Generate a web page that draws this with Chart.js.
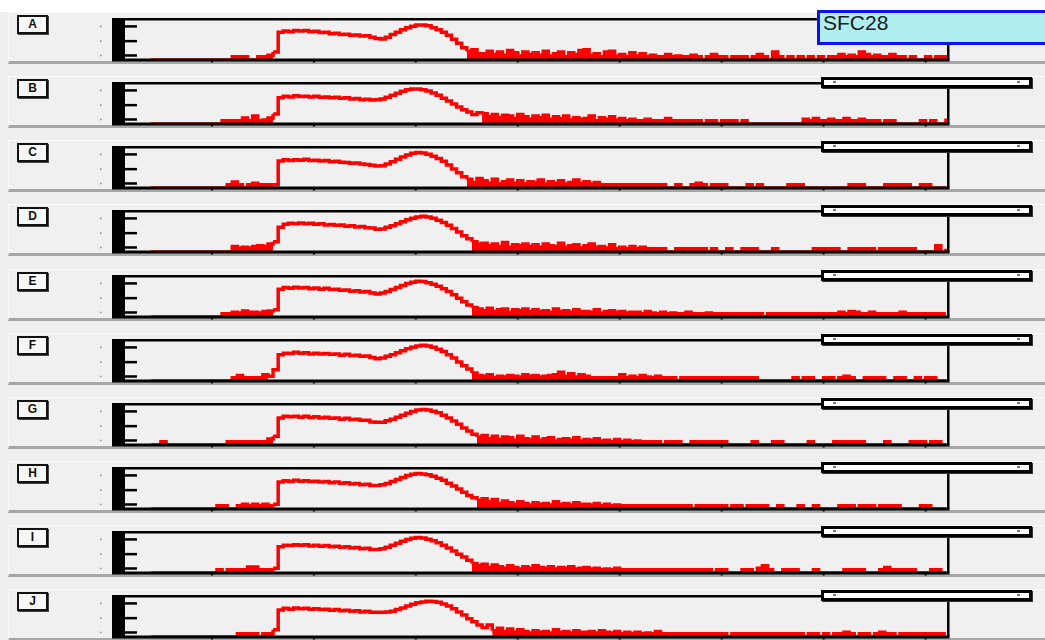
<!DOCTYPE html>
<html>
<head>
<meta charset="utf-8">
<script src="https://cdn.jsdelivr.net/npm/chart.js@4.4.0/dist/chart.umd.min.js"></script>
<style>
  body{margin:0;width:1045px;height:640px;overflow:hidden;background:#efefef;position:relative;font-family:"Liberation Sans",Arial,sans-serif;}
  #topstrip{position:absolute;left:0;top:0;width:1045px;height:12px;background:#fff;}
  .panel{position:absolute;left:8px;width:1037px;height:48px;background:#f0f0f0;border-top:1px solid #fbfbfb;border-left:1px solid #fbfbfb;border-bottom:3px solid #a6a6a6;}
  .lbl{position:absolute;left:17px;width:31px;height:19px;box-sizing:border-box;border:2px solid #111;background:#f7f7f7;box-shadow:1px 1px 0 #444;
       font-weight:bold;font-size:12px;line-height:15px;text-align:center;color:#111;z-index:2;}
  canvas{position:absolute;left:95px;z-index:1;}
  .scroll{position:absolute;left:821px;width:211px;height:11px;box-sizing:border-box;border:3px solid #000;background:#fff;box-shadow:1px 1px 0 #333;z-index:2;}
  .scroll i{position:absolute;top:1px;width:3px;height:2px;background:#6b7a8c;}
  #sfc{position:absolute;left:817px;top:10px;width:240px;height:35px;box-sizing:border-box;border:3px solid #0a14e6;background:#afeeee;z-index:3;}
  #sfc span{position:absolute;left:3px;top:-2px;font-size:21px;line-height:24px;color:#1a1a1a;}
</style>
</head>
<body>
<div id="topstrip"></div>
<div id="rows"></div>
<div id="sfc"><span>SFC28</span></div>
<script>
// histogram bins: channel START + i*BIN, heights in % of the plot height
const START = 40;
const BIN = 5;
const X_MIN = 2, X_MAX = 822;
const X_TICKS = [100, 200, 300, 400, 500, 600, 700, 800];
const Y_TICKS = [12, 48, 85];
const ROW_LABELS = ['A', 'B', 'C', 'D', 'E', 'F', 'G', 'H', 'I', 'J'];

const A_VALUES = [
  0,0,0,0,0,0,0,0,0,0,0,0,0,0,0,0,8,8,8,0,0,8,8,12,20,
  70,73,71,74,73,74,71,72,69,70,
  66,67,64,65,62,63,60,61,57,54,
  53,57,64,70,76,81,85,88,88,86,
  81,76,70,62,52,42,31,22,26,16,
  16,22,14,20,12,24,18,10,20,14,
  18,12,22,10,16,20,8,18,14,24,
  26,12,16,8,20,22,10,14,8,18,
  10,16,8,12,8,8,14,8,10,8,
  8,12,8,0,8,14,8,8,0,8,
  8,8,0,8,14,8,0,20,8,0,
  8,0,8,0,8,0,8,0,8,8,
  14,8,12,8,20,14,8,12,8,8,
  14,8,8,0,8,0,0,8,0,8,
  8,0
];
const B_VALUES = [
  0,0,0,0,0,0,0,0,0,0,0,0,0,0,8,8,8,8,15,8,20,8,10,15,25,
  66,70,68,71,69,70,68,70,67,68,
  66,67,65,66,63,64,61,62,60,61,
  63,67,72,77,82,86,88,88,86,83,
  78,72,65,58,50,43,36,30,24,28,
  26,18,24,16,22,20,14,24,18,12,
  20,16,22,12,18,14,20,10,16,12,
  14,20,8,16,12,18,10,14,8,12,
  8,8,12,8,8,8,14,8,8,8,
  8,8,8,0,8,8,0,8,8,8,
  0,8,0,0,0,0,0,0,0,0,
  0,0,0,12,8,14,8,8,12,8,
  8,14,8,8,12,8,8,8,0,8,
  8,0,0,0,0,0,8,0,8,0,
  0,14
];
const C_VALUES = [
  0,0,0,0,0,0,0,0,0,0,0,0,0,0,0,8,15,8,0,8,12,8,8,8,8,
  68,71,69,71,70,72,69,70,68,69,
  66,67,65,64,62,63,60,59,57,55,
  56,60,66,72,78,83,87,89,88,85,
  80,74,67,58,48,38,28,22,14,24,
  18,12,22,10,16,20,12,18,10,16,
  14,20,10,16,12,18,10,14,20,12,
  16,10,14,8,8,8,8,8,8,8,
  8,8,8,8,8,8,0,0,8,0,
  0,8,12,8,0,8,8,8,0,0,
  0,0,8,0,8,0,0,0,0,0,
  8,8,8,0,0,0,0,0,0,0,
  0,0,8,8,8,0,0,0,0,8,
  8,8,8,8,0,0,8,8,0,0,
  0,0
];
const D_VALUES = [
  0,0,0,0,0,0,0,0,0,0,0,0,0,0,0,0,14,10,12,10,14,16,14,20,26,
  62,70,72,71,73,71,72,70,71,68,
  69,67,68,65,66,63,64,61,60,57,
  58,62,66,71,76,81,85,88,90,88,
  85,80,74,67,59,50,41,33,26,20,
  22,16,20,14,24,12,18,16,20,14,
  18,12,20,16,14,22,12,16,18,10,
  16,20,12,14,10,18,8,12,8,14,
  8,12,8,8,8,8,0,0,8,8,
  8,8,8,8,0,8,0,0,8,0,
  0,8,8,8,0,0,0,8,0,0,
  0,0,0,0,0,8,8,8,8,8,
  0,0,8,8,8,8,8,0,8,8,
  8,8,8,8,8,0,0,0,0,16,
  0,8
];
const E_VALUES = [
  0,0,0,0,0,0,0,0,0,0,0,0,0,0,8,8,12,10,15,12,12,10,14,15,18,
  70,74,72,75,73,74,71,73,70,72,
  69,70,67,68,65,66,63,64,60,58,
  60,64,69,74,79,84,87,90,89,86,
  82,77,71,64,56,47,38,30,24,20,
  16,22,14,18,20,12,18,16,20,14,
  18,14,16,12,20,14,16,12,18,14,
  14,12,18,10,14,16,12,14,10,12,
  12,8,14,10,8,12,8,10,8,8,
  12,8,8,8,10,8,8,8,8,8,
  8,8,8,8,8,0,8,8,8,8,
  8,8,8,8,8,8,8,8,8,8,
  12,8,14,12,8,8,12,8,8,8,
  8,8,12,8,8,8,8,8,8,8,
  8,8
];
const F_VALUES = [
  0,0,0,0,0,0,0,0,0,0,0,0,0,0,0,0,8,14,8,8,8,8,16,12,28,
  66,70,69,72,70,71,68,70,68,69,
  67,68,65,67,64,65,62,63,59,56,
  58,62,66,71,76,81,85,88,90,88,
  85,80,74,66,58,48,38,30,20,14,
  12,16,8,12,10,14,12,10,16,12,
  14,10,12,14,16,22,12,18,10,16,
  12,8,8,8,8,8,8,16,8,12,
  8,14,10,8,12,8,8,8,0,8,
  8,8,8,8,8,8,8,8,8,8,
  8,8,8,8,0,0,0,0,0,0,
  0,8,0,8,8,0,0,8,8,0,
  8,12,8,0,0,8,8,8,8,0,
  0,8,8,0,0,8,0,8,8,0,
  0,0
];
const G_VALUES = [
  0,0,8,0,0,0,0,0,0,0,0,0,0,0,0,8,8,8,8,8,8,8,8,15,22,
  68,72,71,72,70,72,69,71,68,70,
  67,68,65,67,64,65,62,62,58,57,
  57,61,65,70,75,80,84,88,89,88,
  85,81,75,68,60,52,43,35,27,20,
  24,16,22,14,20,18,12,22,16,14,
  20,12,16,18,10,14,16,12,18,10,
  14,12,16,10,12,8,14,8,12,8,
  10,8,8,8,8,0,8,8,8,0,
  0,8,8,8,8,8,8,8,0,0,
  0,0,0,8,0,0,0,8,8,0,
  0,0,0,0,8,0,0,0,0,8,
  8,8,8,8,8,0,0,0,0,8,
  0,0,0,0,8,8,8,0,8,8,
  0,0
];
const H_VALUES = [
  0,0,0,0,0,0,0,0,0,0,0,0,0,8,8,0,0,8,12,8,12,8,12,8,12,
  68,71,69,72,70,71,69,70,68,69,
  66,68,65,66,63,64,61,62,59,59,
  61,64,69,74,79,84,87,89,88,86,
  82,77,72,65,58,50,42,34,28,22,
  26,18,24,14,20,16,12,18,14,10,
  16,12,14,10,18,12,14,10,16,12,
  12,10,14,8,12,8,10,8,8,8,
  8,8,8,8,8,8,8,8,8,8,
  8,0,8,8,8,8,8,8,0,8,
  8,0,8,8,8,8,0,0,8,0,
  0,0,8,0,0,8,0,0,0,0,
  8,8,8,0,8,8,8,0,8,8,
  8,8,0,0,0,0,8,8,0,0,
  0,0
];
const I_VALUES = [
  0,0,0,0,0,0,0,0,0,0,0,0,0,8,0,8,8,8,8,15,15,8,8,8,12,
  66,70,69,71,70,71,68,70,67,69,
  66,67,65,66,63,64,61,62,59,59,
  61,65,70,75,80,84,87,89,88,85,
  81,76,70,63,55,47,40,32,24,18,
  22,14,20,16,12,18,14,10,16,12,
  18,14,12,16,10,14,12,16,10,12,
  14,10,12,8,10,8,12,8,8,8,
  8,8,8,8,8,8,8,8,8,8,
  8,8,8,8,8,0,8,8,0,0,
  0,8,8,0,12,18,8,0,0,8,
  8,8,0,0,0,8,0,0,0,0,
  0,8,8,8,8,0,0,0,8,14,
  8,8,8,8,8,0,0,0,8,8,
  0,0
];
const J_VALUES = [
  0,0,0,0,0,0,0,0,0,0,0,0,0,0,0,0,0,8,8,8,8,0,8,8,18,
  68,72,70,73,71,72,70,71,69,70,
  67,69,66,67,65,66,63,65,62,62,
  62,63,65,69,73,78,82,86,88,90,
  89,87,83,78,71,63,55,46,38,30,
  24,30,16,22,14,20,12,18,14,10,
  16,12,14,10,18,12,14,10,16,12,
  12,14,10,16,12,10,14,8,12,8,
  12,8,10,8,14,8,8,8,8,8,
  8,8,8,8,8,8,8,8,0,8,
  8,8,8,8,8,8,8,8,8,8,
  8,8,8,0,8,8,0,8,0,8,
  8,12,8,0,8,8,0,8,12,8,
  8,0,8,8,8,8,8,8,8,8,
  8,8
];
const SERIES = [A_VALUES, B_VALUES, C_VALUES, D_VALUES, E_VALUES, F_VALUES, G_VALUES, H_VALUES, I_VALUES, J_VALUES];

// frame, black y strip with inward ticks, x tick dots
const framePlugin = {
  id: 'frame',
  afterDatasetsDraw(chart, args, opts) {
    const ctx = chart.ctx, a = chart.chartArea;
    const xs = chart.scales.x, ys = chart.scales.y;
    ctx.save();
    ctx.fillStyle = '#000';
    ctx.fillRect(a.left, a.bottom - 1.5, a.right - a.left + 1.5, 3);
    ctx.fillRect(a.left, a.top - 1, opts.topEnd - a.left, 2.5);
    ctx.fillRect(a.right - 1, a.top + opts.rightFrom, 2.5, a.bottom - a.top - opts.rightFrom);
    ctx.fillRect(a.left, a.top, 13, a.bottom - a.top);
    Y_TICKS.forEach(v => {
      const py = ys.getPixelForValue(v);
      ctx.fillStyle = '#000';
      ctx.fillRect(a.left, py - 1, 25, 2.5);
      ctx.fillStyle = '#7d8b99';
      ctx.fillRect(a.left - 12, py - 0.5, 1.5, 1.5);
    });
    ctx.fillStyle = '#000';
    X_TICKS.forEach(v => {
      const px = xs.getPixelForValue(v);
      ctx.fillRect(px - 1, a.bottom + 1, 2, 1.5);
    });
    ctx.restore();
  }
};

// low counts (tail and lead-in) are drawn as filled bars, the main peak as a line
const lowFill = c => (c.p0.parsed.y <= 26 && c.p1.parsed.y <= 26) ? '#ff0000' : 'rgba(0,0,0,0)';

const rows = document.getElementById('rows');
SERIES.forEach((vals, i) => {
  const T = 19 + Math.round(i * 64.15);
  const panel = document.createElement('div');
  panel.className = 'panel';
  panel.style.top = (T - 7) + 'px';
  rows.appendChild(panel);

  const lbl = document.createElement('div');
  lbl.className = 'lbl';
  lbl.style.top = (T - 4) + 'px';
  lbl.textContent = ROW_LABELS[i];
  rows.appendChild(lbl);

  if (i > 0) {
    const sc = document.createElement('div');
    sc.className = 'scroll';
    sc.style.top = (T - 6) + 'px';
    sc.innerHTML = '<i style="left:9px"></i><i style="left:193px"></i>';
    rows.appendChild(sc);
  }

  const cv = document.createElement('canvas');
  cv.width = 950; cv.height = 55;
  cv.style.top = (T - 8) + 'px';
  rows.appendChild(cv);

  const pts = vals.map((v, k) => ({ x: START + k * BIN, y: v }));
  new Chart(cv, {
    type: 'line',
    data: { datasets: [{
      data: pts,
      borderColor: '#ff0000',
      backgroundColor: 'rgba(0,0,0,0)',
      borderWidth: 3.5,
      pointRadius: 0,
      stepped: true,
      fill: 'origin',
      segment: { backgroundColor: lowFill }
    }] },
    options: {
      responsive: false,
      animation: false,
      events: [],
      layout: { padding: { left: 17, right: 97, top: 8, bottom: 6 } },
      plugins: {
        legend: { display: false },
        tooltip: { enabled: false },
        frame: { topEnd: 727, rightFrom: i === 0 ? 26 : 6 }
      },
      scales: {
        x: { type: 'linear', min: X_MIN, max: X_MAX, display: false },
        y: { min: 0, max: 103, display: false }
      }
    },
    plugins: [framePlugin]
  });
});
</script>
</body>
</html>
